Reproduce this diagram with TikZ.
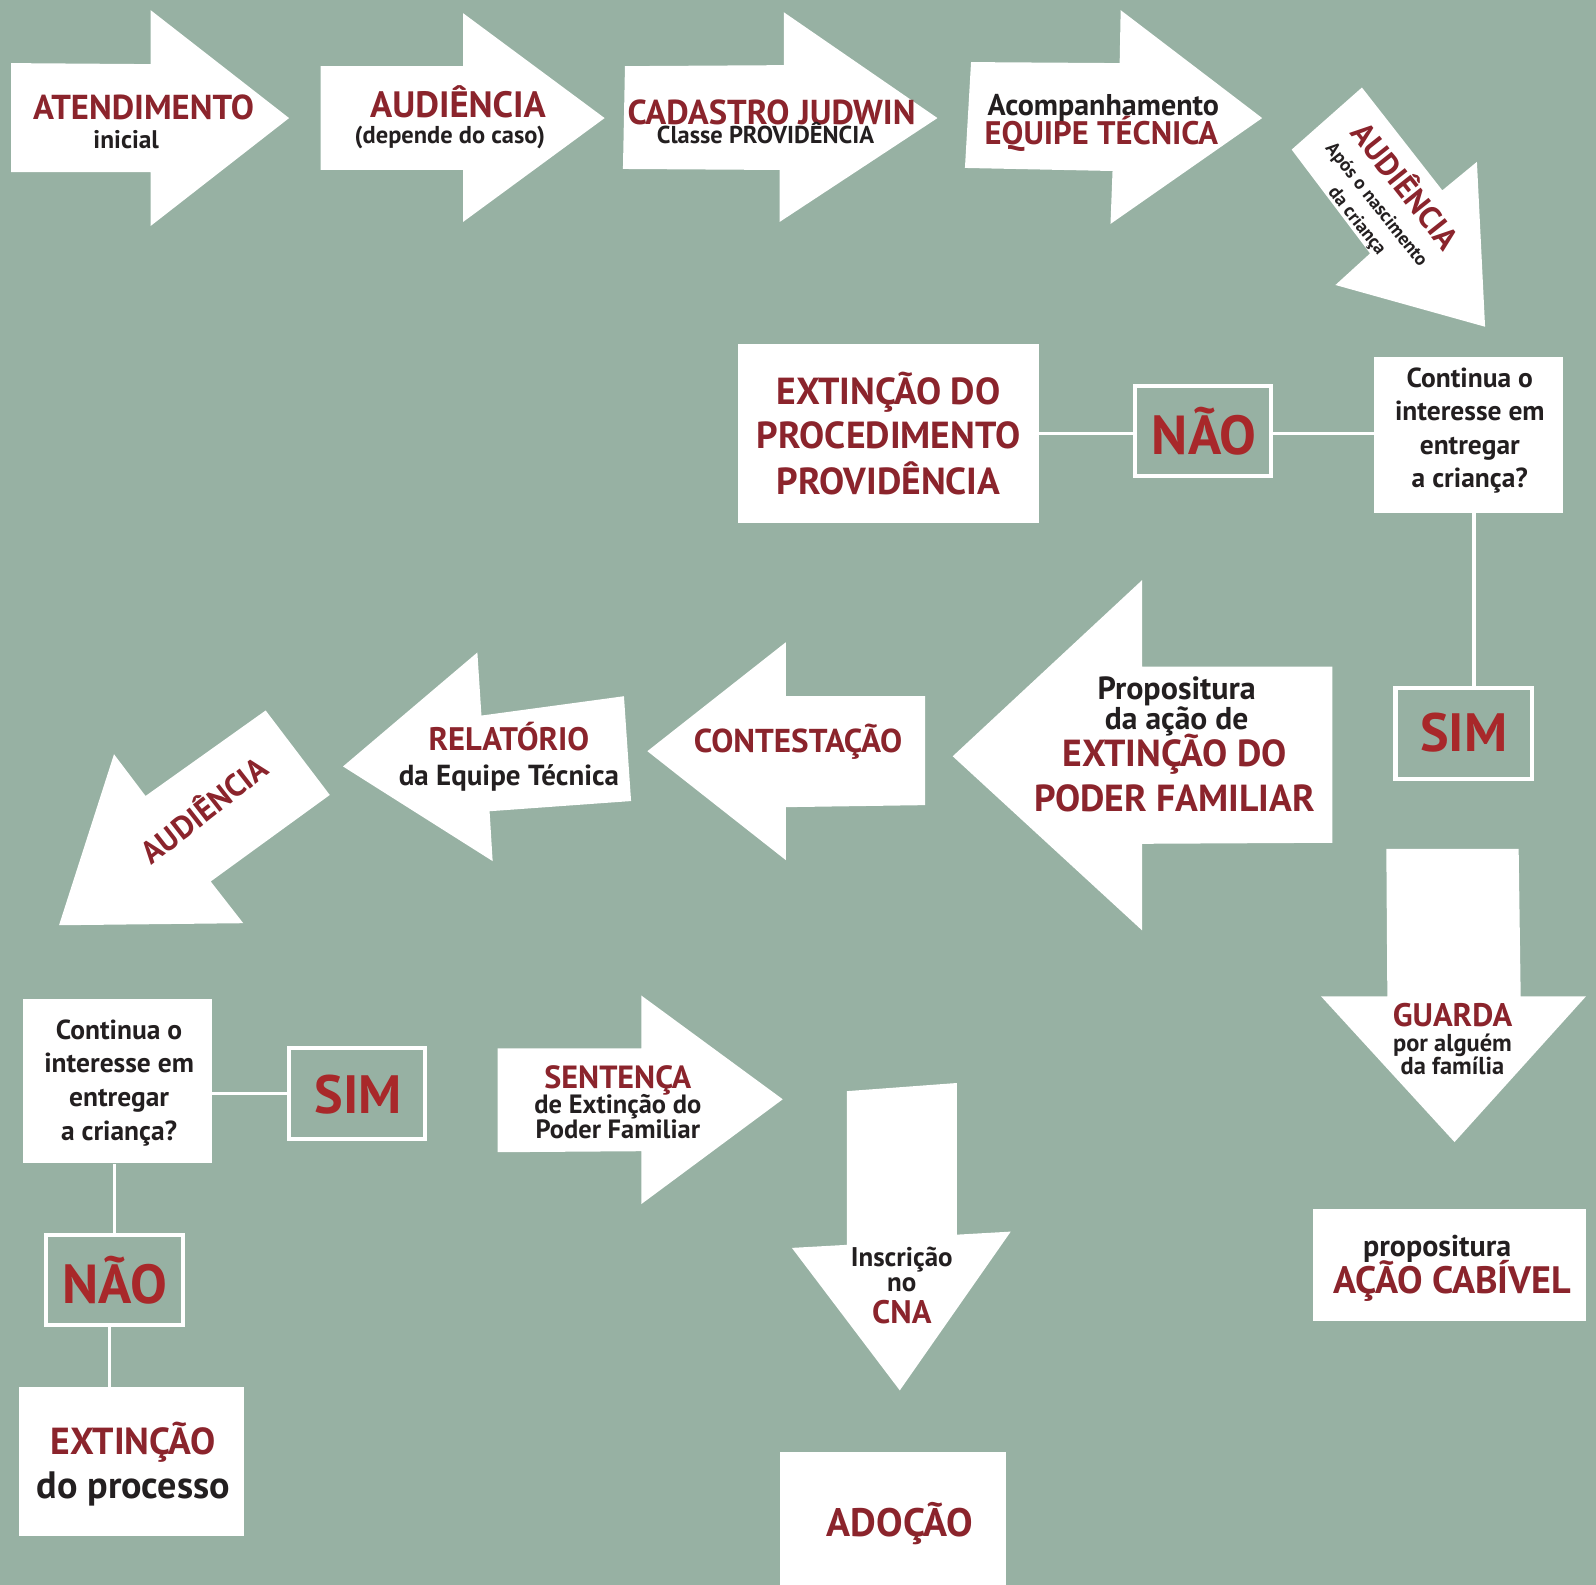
\documentclass[tikz,border=0pt]{standalone}
\usepackage{fontspec}
\setmainfont{PT Sans}
\definecolor{bg}{RGB}{151,177,163}
\definecolor{rd}{RGB}{139,36,44}
\definecolor{rdb}{RGB}{168,40,42}
\definecolor{ink}{RGB}{35,31,32}
\newcommand\fsz[1]{\fontsize{#1}{#1}\selectfont}
\begin{document}
\begin{tikzpicture}[x=1pt,y=-1pt,
  arr/.style={fill=white,draw=none},
  box/.style={rectangle,fill=white,draw=none,inner sep=0pt},
  obox/.style={rectangle,draw=white,line width=4pt,fill=none,inner sep=0pt,minimum width=134pt,minimum height=89pt},
  conn/.style={draw=white,line width=3.5pt},
  t/.style={inner sep=0pt,anchor=mid,font=\bfseries},
  r/.style={t,text=rd,yshift=-9.5pt},
  k/.style={t,text=ink,yshift=-6.5pt},
  big/.style={t,text=rdb,yshift=-16pt},
  rr/.style={t,text=rd},
  rk/.style={t,text=ink}]
\useasboundingbox (0,0) rectangle (1568,1557);
\fill[bg] (0,0) rectangle (1568,1557);

% ---------- arrows ----------
\fill[arr] (11,62) -- (148,63) -- (148,10) -- (284,116) -- (148,222) -- (148,169) -- (11,169) -- cycle;
\fill[arr] (315,65) -- (455,65) -- (455,13) -- (594,116) -- (455,218) -- (455,167) -- (315,167) -- cycle;
\fill[arr] (614,65) -- (770,64) -- (770,12) -- (921,116) -- (766,218) -- (766,167) -- (612,166) -- cycle;
\fill[arr] (954,61) -- (1100,62) -- (1101,10) -- (1240,116) -- (1091,220) -- (1093,168) -- (948,165) -- cycle;
\fill[arr] (1338,86) -- (1417,187) -- (1451,159) -- (1459,321) -- (1312,280) -- (1346,249) -- (1269,147) -- cycle;
\fill[arr] (936,743) -- (1122,570) -- (1122,655) -- (1309,655) -- (1309,828) -- (1122,829) -- (1122,914) -- cycle;
\fill[arr] (636,738) -- (772,631) -- (772,684) -- (909,684) -- (909,791) -- (772,793) -- (772,845) -- cycle;
\fill[arr] (337,753) -- (469,641) -- (473,703) -- (613,684) -- (620,787) -- (481,797) -- (484,846) -- cycle;
\fill[arr] (261,698) -- (324,781) -- (207,866) -- (239,907) -- (58,909) -- (112,741) -- (143,782) -- cycle;
\fill[arr] (489,1030) -- (630,1030) -- (630,978) -- (769,1080) -- (630,1183) -- (630,1131) -- (489,1132) -- cycle;
\fill[arr] (832,1072) -- (940,1064) -- (940,1213) -- (993,1210) -- (884,1366) -- (778,1226) -- (832,1223) -- cycle;
\fill[arr] (1362,834) -- (1492,834) -- (1494,979) -- (1558,979) -- (1429,1122) -- (1298,979) -- (1363,979) -- cycle;

% ---------- boxes ----------
\node[box,minimum width=186pt,minimum height=153pt] (cont1) at (1443,427.5) {};
\node[obox] (nao1) at (1182,423.5) {};
\node[box,minimum width=296pt,minimum height=176pt] (ext1) at (873,426) {};
\node[obox] (sim1) at (1438,720.5) {};
\node[box,minimum width=268pt,minimum height=110pt] (prop) at (1424,1243) {};
\node[box,minimum width=185pt,minimum height=162pt] (cont2) at (115.5,1062) {};
\node[obox] (sim2) at (350.5,1074.5) {};
\node[obox] (nao2) at (112.5,1257.5) {};
\node[box,minimum width=221pt,minimum height=146pt] (ext2) at (129.5,1436) {};
\node[box,minimum width=222pt,minimum height=132pt] (adoc) at (877,1493) {};

% ---------- connectors ----------
\draw[conn] (ext1.east) -- (ext1.east -| nao1.west);
\draw[conn] (ext1.east -| nao1.east) -- (ext1.east -| cont1.west);
\draw[conn] ([xshift=5pt]cont1.south) -- ([xshift=5pt]cont1.south |- sim1.north);
\draw[conn] (sim2.west) -- (sim2.west -| cont2.east);
\draw[conn] (nao2.north) -- (nao2.north |- cont2.south);
\draw[conn] ([xshift=-5pt]nao2.south) -- ([xshift=-5pt]nao2.south |- ext2.north);

% ---------- texts ----------
\node[r,font=\bfseries\fsz{34}] (t1a) at (141,105) {ATENDIMENTO};
\node[k,font=\bfseries\fsz{25}] (t1b) at (124,137) {inicial};
\node[r,font=\bfseries\fsz{36}] (t2a) at (450,103) {AUDIÊNCIA};
\node[k,font=\bfseries\fsz{24}] (t2b) at (442,132) {(depende do caso)};
\node[r,font=\bfseries\fsz{34}] (t3a) at (758,110) {CADASTRO JUDWIN};
\node[k,font=\bfseries\fsz{24}] (t3b) at (752,132) {Classe PROVIDÊNCIA};
\node[k,font=\bfseries\fsz{29.5}] (t4a) at (1084,104) {Acompanhamento};
\node[r,font=\bfseries\fsz{32}] (t4b) at (1082,130) {EQUIPE TÉCNICA};
\node[rr,font=\bfseries\fsz{31},rotate=-51.5] (t5a) at (1374,188) {AUDIÊNCIA};
\node[rk,font=\bfseries\fsz{18.5},rotate=-51.5] (t5b) at (1350,203) {Após o nascimento};
\node[rk,font=\bfseries\fsz{18.5},rotate=-51.5] (t5c) at (1331,219) {da criança};

\node[k,font=\bfseries\fsz{27}] (c1a) at (1444,372) {Continua o};
\node[k,font=\bfseries\fsz{27}] (c1b) at (1444,404) {interesse em};
\node[k,font=\bfseries\fsz{27}] (c1c) at (1444,438) {entregar};
\node[k,font=\bfseries\fsz{27}] (c1d) at (1444,470) {a criança?};
\node[big,font=\bfseries\fsz{54}] (n1) at (1183,428) {NÃO};
\node[r,font=\bfseries\fsz{37}] (e1a) at (873,385) {EXTINÇÃO DO};
\node[r,font=\bfseries\fsz{37}] (e1b) at (873,429) {PROCEDIMENTO};
\node[r,font=\bfseries\fsz{37}] (e1c) at (873,474) {PROVIDÊNCIA};
\node[big,font=\bfseries\fsz{53}] (s1) at (1438,720) {SIM};

\node[r,font=\bfseries\fsz{32}] (g1) at (1427,996) {GUARDA};
\node[k,font=\bfseries\fsz{24}] (g2) at (1427,1024) {por alguém};
\node[k,font=\bfseries\fsz{24}] (g3) at (1427,1047) {da família};
\node[k,font=\bfseries\fsz{29.5}] (p1) at (1412,1225) {propositura};
\node[r,font=\bfseries\fsz{37.5}] (p2) at (1427,1259) {AÇÃO CABÍVEL};

\node[k,font=\bfseries\fsz{31.5}] (f1) at (1156,678) {Propositura};
\node[k,font=\bfseries\fsz{31}] (f2) at (1156,708) {da ação de};
\node[r,font=\bfseries\fsz{37}] (f3) at (1154,741) {EXTINÇÃO DO};
\node[r,font=\bfseries\fsz{37}] (f4) at (1154,785) {PODER FAMILIAR};
\node[r,font=\bfseries\fsz{32.5}] (ct) at (784,727) {CONTESTAÇÃO};
\node[r,font=\bfseries\fsz{32}] (re1) at (500,725) {RELATÓRIO};
\node[k,font=\bfseries\fsz{28.5}] (re2) at (500,763) {da Equipe Técnica};
\node[rr,font=\bfseries\fsz{31},rotate=38] (au2) at (206,803) {AUDIÊNCIA};

\node[k,font=\bfseries\fsz{27}] (c2a) at (117,1012) {Continua o};
\node[k,font=\bfseries\fsz{27}] (c2b) at (117,1045) {interesse em};
\node[k,font=\bfseries\fsz{27}] (c2c) at (117,1078) {entregar};
\node[k,font=\bfseries\fsz{27}] (c2d) at (117,1111) {a criança?};
\node[big,font=\bfseries\fsz{53}] (s2) at (352,1075) {SIM};
\node[big,font=\bfseries\fsz{54}] (n2) at (113,1262) {NÃO};
\node[r,font=\bfseries\fsz{37}] (x1) at (131,1417) {EXTINÇÃO};
\node[k,font=\bfseries\fsz{37.5}] (x2) at (131,1463) {do processo};

\node[r,font=\bfseries\fsz{31.5}] (se1) at (607,1057) {SENTENÇA};
\node[k,font=\bfseries\fsz{26}] (se2) at (607,1085) {de Extinção do};
\node[k,font=\bfseries\fsz{26}] (se3) at (607,1110) {Poder Familiar};
\node[k,font=\bfseries\fsz{26.5}] (i1) at (886,1235) {Inscrição};
\node[k,font=\bfseries\fsz{26.5}] (i2) at (886,1260) {no};
\node[r,font=\bfseries\fsz{32}] (i3) at (886,1288) {CNA};
\node[r,font=\bfseries\fsz{39}] (ad) at (884,1498) {ADOÇÃO};
\end{tikzpicture}
\end{document}
